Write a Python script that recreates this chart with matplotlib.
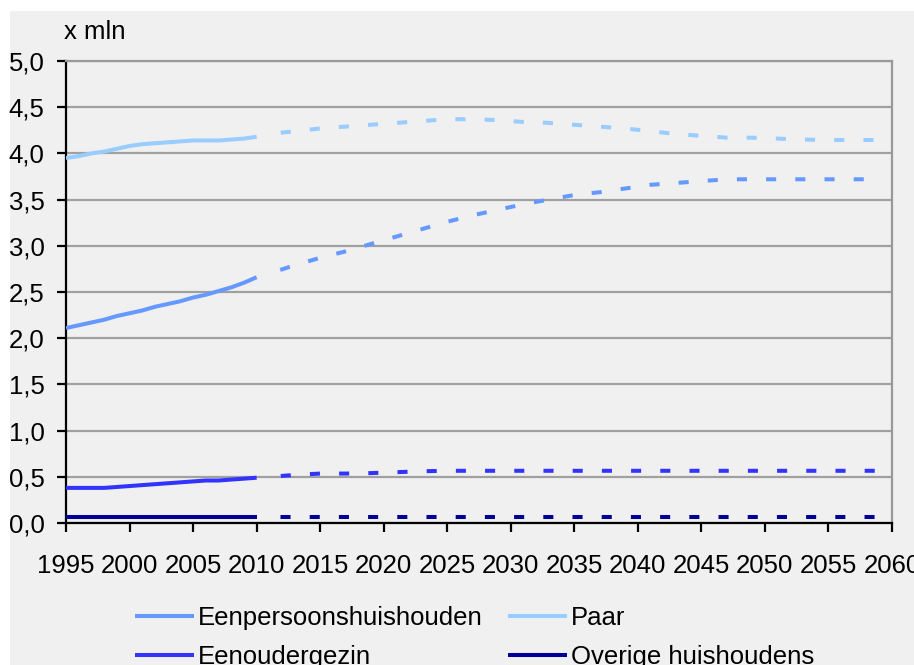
import matplotlib.pyplot as plt
from matplotlib.patches import Rectangle

# data (x mln households)
hist_years = list(range(1995, 2011))
hist_eenpersoons = [2.11, 2.14, 2.17, 2.20, 2.24, 2.27, 2.30, 2.34, 2.37, 2.40, 2.44, 2.47, 2.51, 2.55, 2.60, 2.66]
hist_paar = [3.95, 3.97, 4.00, 4.02, 4.05, 4.08, 4.10, 4.11, 4.12, 4.13, 4.14, 4.14, 4.14, 4.15, 4.16, 4.18]
hist_eenouder = [0.38, 0.38, 0.38, 0.38, 0.39, 0.40, 0.41, 0.42, 0.43, 0.44, 0.45, 0.46, 0.46, 0.47, 0.48, 0.49]
hist_overig = [0.06] * 16

proj_years = list(range(2011, 2060, 2))
proj_eenpersoons = [2.70, 2.79, 2.87, 2.94, 3.02, 3.10, 3.18, 3.26, 3.33, 3.39, 3.45, 3.50, 3.55,
                    3.58, 3.62, 3.66, 3.68, 3.70, 3.72, 3.72, 3.72, 3.72, 3.72, 3.72, 3.72]
proj_paar = [4.21, 4.24, 4.27, 4.29, 4.31, 4.33, 4.35, 4.37, 4.37, 4.36, 4.34, 4.33, 4.31,
             4.29, 4.27, 4.24, 4.21, 4.19, 4.17, 4.17, 4.16, 4.15, 4.145, 4.145, 4.145]
proj_eenouder = [0.50, 0.52, 0.535, 0.535, 0.54, 0.55, 0.56, 0.565, 0.565, 0.565, 0.565, 0.565, 0.565,
                 0.565, 0.565, 0.565, 0.565, 0.565, 0.565, 0.565, 0.565, 0.565, 0.565, 0.565, 0.565]
proj_overig = [0.06] * 25

labels = ['Eenpersoonshuishouden', 'Paar', 'Eenoudergezin', 'Overige huishoudens']
colors = ['#6699ff', '#99ccff', '#3333ff', '#000099']

x_ticks = list(range(1995, 2061, 5))
y_ticks = [0.0, 0.5, 1.0, 1.5, 2.0, 2.5, 3.0, 3.5, 4.0, 4.5, 5.0]
y_labels = ['0,0', '0,5', '1,0', '1,5', '2,0', '2,5', '3,0', '3,5', '4,0', '4,5', '5,0']

plt.rcParams['font.family'] = ['Liberation Sans', 'DejaVu Sans']

fig = plt.figure(figsize=(9.14, 6.65), dpi=100, facecolor='white')
fig.patches.append(Rectangle((10 / 914, 0), 1, 654 / 665, transform=fig.transFigure,
                             facecolor='#f0f0f0', edgecolor='none', zorder=-1))

ax = fig.add_axes([66 / 914, 1 - 523 / 665, 826 / 914, 462 / 665])
ax.set_facecolor('#f0f0f0')

hist = [hist_eenpersoons, hist_paar, hist_eenouder, hist_overig]
proj = [proj_eenpersoons, proj_paar, proj_eenouder, proj_overig]
lw = 2.9
handles = {}
for lab, col, h, p in zip(labels, colors, hist, proj):
    line, = ax.plot(hist_years, h, color=col, lw=lw, solid_capstyle='butt', label=lab, zorder=3)
    ax.plot(proj_years, p, color=col, lw=lw, linestyle=(4.4, (2.5, 4.75)), zorder=3)
    handles[lab] = line

ax.set_xlim(1995, 2060)
ax.set_ylim(0, 5)
ax.set_xticks(x_ticks)
ax.set_yticks(y_ticks)
ax.set_yticklabels(y_labels)
ax.grid(axis='y', color='#a0a0a0', lw=1.6, zorder=1)
ax.set_axisbelow(True)

for s in ['left', 'bottom']:
    ax.spines[s].set_color('black')
    ax.spines[s].set_linewidth(1.6)
for s in ['top', 'right']:
    ax.spines[s].set_color('#999999')
    ax.spines[s].set_linewidth(1.6)

ax.tick_params(axis='both', direction='out', length=6.5, width=1.6, color='black',
               labelsize=18.5, labelcolor='black')
ax.tick_params(axis='y', pad=9)
ax.tick_params(axis='x', pad=15.5)

fig.text(64 / 914, 1 - 32 / 665, 'x mln', fontsize=18.5, va='center', ha='left')

order = ['Eenpersoonshuishouden', 'Eenoudergezin', 'Paar', 'Overige huishoudens']
fig.legend([handles[k] for k in order], order, loc='upper left',
           bbox_to_anchor=(135 / 914, 1 - 606 / 665), ncol=2, frameon=False,
           fontsize=18.5, handlelength=2.3, handletextpad=0.15, columnspacing=1.0,
           labelspacing=0.58, borderpad=0, borderaxespad=0)

fig.savefig('out.png', dpi=100, facecolor=fig.get_facecolor())
